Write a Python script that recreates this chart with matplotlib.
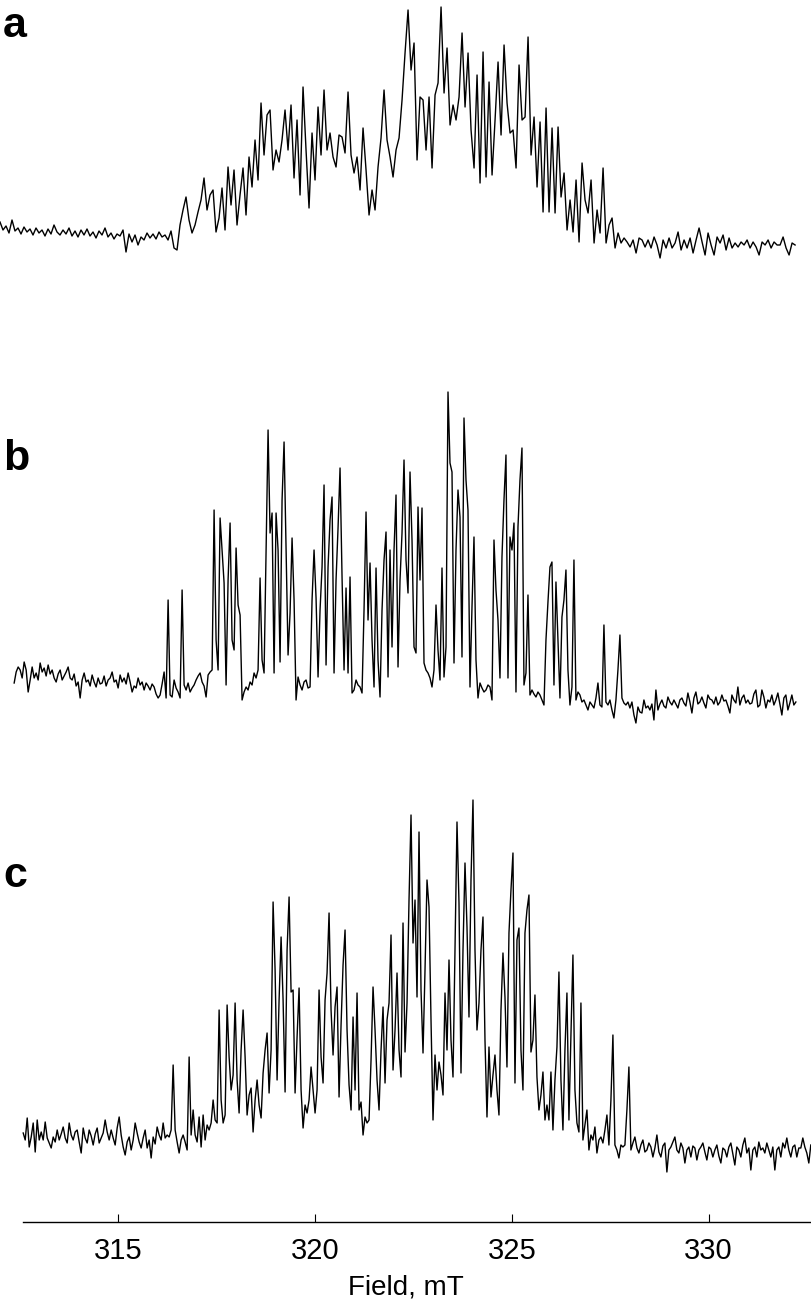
import matplotlib

matplotlib.use("Agg")
import matplotlib.pyplot as plt
import numpy as np

plt.rcParams["font.family"] = ["Liberation Sans", "DejaVu Sans"]

# Field sweep of each spectrum (mT), points are evenly spaced
field_a = (311.99, 332.20)
field_b = (312.35, 332.22)
field_c = (312.58, 332.60)

# Spectrum a (a.u., relative to its baseline)
sig_a = [
    18, 10, 14, 7, 20, 9, 12, 6, 13, 8, 11, 5, 12, 7, 10, 4, 11, 6, 15, 8,
    5, 10, 6, 12, 4, 9, 3, 10, 5, 11, 4, 8, 2, 9, 5, 12, 3, 7, 1, 6,
    4, 10, -12, 6, -2, 5, -5, 3, 0, 7, 2, 6, 1, 8, 3, 5, 0, 9, -8,
    -10, 15, 30, 43, 20, 7, 15, 28, 40, 62, 30, 45, 50, 8, 22, 52, 10, 73, 35, 70,
    15, 45, 72, 25, 83, 53, 100, 60, 137, 85, 125,
    130, 70, 90, 78, 100, 130, 90, 135, 62, 120,
    45, 153, 90, 32, 107, 60, 133, 85, 150, 90, 107,
    83, 73, 105, 103, 87, 148, 85, 67, 83, 50,
    112, 70, 25, 50, 30, 73, 102, 150, 100, 83,
    63, 90, 102, 140, 187, 230, 170, 197, 80, 143,
    140, 90, 143, 72, 145, 157, 233, 147, 192, 115,
    135, 120, 143, 207, 133, 187, 110, 72, 165, 57,
    188, 63, 158, 65, 120, 178, 105, 195, 137, 107,
    110, 72, 175, 120, 123, 203, 85, 123, 53, 118,
    28, 132, 28, 112, 27, 113, 43, 67, 10, 40,
    8, 60, -2, 77, 40, 27, 60, -3, 30, 7,
    72, -3, 15, 22, -8,
    7, -3, 2, -2, -7, 0, -13, 2, 0, -7, 0, -8, 3, -5, -18, 0, -8, 2, -8, -3,
    8, -10, 0, -8, 2, -13, 0, 12, -2, -15, 7, -5, -15, 3, -3, 5, -10, 2, -8, -3,
    -7, -2, -5, 0, -8, -2, -7, -15, -2, -5, 0, -8, -2, -5, -5, 3, -8, -15, -3, -5,
]

# Spectrum b
sig_b = [
    17, 28, 33, 30, 22, 38, 30, 8, 20, 33, 22, 27, 20, 37, 28, 32, 24, 35, 26, 30,
    22, 18, 26, 30, 20, 24, 28, 33, 22, 20, 26, 14, 18, 2, 20, 27, 18, 20, 14, 25,
    18, 13, 22, 16, 17, 24, 14, 20, 22, 28, 18, 20, 12, 25, 18, 22, 16, 27, 18, 8,
    14, 12, 22, 15, 18, 10, 17, 14, 10, 16, 13, 6, 2, 5, 16, 28, 2,
    100, 5, 3, 20, 12, 8, 2, 110, 15, 10, 17, 8, 12, 15, 20, 24, 27, 18, 14, 3,
    25, 28, 30, 190, 60, 30, 182, 150, 117, 15, 120, 177, 60, 50, 152, 95, 85, 0, 8, 13,
    10, 18, 15, 27, 22, 30, 122, 40, 27, 150, 270, 167, 187, 27, 187, 150, 38, 200, 258, 150,
    45, 87, 162, 100, 0, 23, 15, 10, 18, 20, 12, 13, 100, 150, 102, 23, 90, 133, 215, 35,
    133, 180, 203, 27, 120, 172, 232, 123, 30, 112, 27, 123, 7, 10, 20, 15, 13, 7, 90, 188,
    80, 137, 60, 13, 132, 40, 3, 90, 140, 168, 23, 150, 53, 150, 205, 33, 120, 167, 240, 140,
    107, 228, 160, 53, 47, 193, 120, 192, 37, 30, 27, 22, 13, 30, 95, 50, 20, 132, 23, 53,
    308, 237, 228, 37, 150, 210, 183, 43, 282, 220, 190, 13, 93, 163, 40, 2, 17, 12, 8, 10,
    15, 13, 0, 160, 110, 80, 22, 143, 200, 245, 22, 163, 150, 177, 8, 173, 220, 252, 15, 27,
    105, 5, 10, 6, 3, 8, 5, 0, -5, 60, 98, 133, 138, 15, 118, 60, 2, 83, 100, 130,
    30, -5, 13, 140, 0, 8, 5, -2, 0, -5, -10, -2, -5, -8, 2, 17, -5, -7, 75, -2,
    -5, 0, -10, -18, 0, 30, 65,
    2, -3, -5, -2, -8, -2, -15, -23, -7, -12, -13, 0, -8, -6, -10, -4, -20, 10, -10, -4,
    0, -6, -8, 3, -2, -5, 0, -4, -8, 0, 2, -3, -6, 7, -2, -13, 2, 8, -4, -2,
    3, -3, -8, 5, 1, 0, -4, 3, -5, -2, 5, -1, 0, -6, -13, 5, 0, -3, 13, -5,
    2, 5, -3, 0, -4, -3, 6, 10, -7, -5, 10, 3, -8, 0, -2, 5, -5, 0, 7, -4,
    -15, 2, 5, -10, -3, 5, -5, -2,
]

# Spectrum c
sig_c = [
    17, 10, 32, 3, 13, 27, -2, 30, 10, 18, 10, 28, 12, 7, 2, 13, 8, 20, 10, 16,
    23, 12, 7, 27, 15, 10, 18, 20, 8, -3, 22, 12, 7, 20, 14, 5, 16, 22, 7, 12,
    17, 30, 18, 10, 20, 12, 5, 22, 33, 15, 3, -5, 8, 13, 0, 10, 27, 17, 8, 2,
    12, 20, 2, 10, -8, 13, 6, 23, 15, 10, 27, 12, 15, 13,
    20, 85, 20, 8, -3, 10, 15, 8, 0, 93, 15, 40, 15, 8, 33, 3, 35, 10, 25, 20,
    27, 50, 30, 27, 140, 50, 27, 35, 145, 93, 60, 75, 147, 70, 37, 100, 140, 93, 35, 55,
    62, 18, 50, 70, 45, 32, 77, 100, 117, 57, 100, 248, 180, 70, 150, 213, 150, 58, 200, 253,
    158, 160, 57, 113, 162, 60, 22, 45, 37, 50, 83, 60, 37, 60, 160, 93, 67, 150, 177, 237,
    140, 95, 143, 163, 53, 125, 185, 220, 120, 65, 40, 133, 60, 157, 40, 48, 15, 33, 27, 30,
    90, 163, 120, 70, 40, 100, 143, 67, 130, 147, 215, 80, 120, 177, 100, 73, 227, 98, 147, 250,
    335, 207, 250, 153, 318, 160, 97, 180, 270, 243, 130, 30, 95, 60, 88, 75, 55, 157, 100, 190,
    110, 73, 200, 328, 247, 77, 200, 287, 223, 133, 270, 350, 200, 120, 147, 200, 233, 110, 33, 103,
    53, 75, 95, 60, 35, 140, 197, 153, 83, 217, 260, 297, 67, 210, 222, 100, 60, 217, 240, 255,
    98, 110, 155, 73, 40, 55, 78, 30, 45, 30, 78, 20, 70, 103, 178, 70, 20, 100, 157, 30,
    115, 195, 60, 27, 18, 147, 10, 25, 40, 0, 15, 10, 23, -3, 10, 13, 7, 20, 35, 5,
    50, 115, 5, 0, -8, 5, 3, 5, 40, 83, 0,
    7, 13, 2, -3, 5, 10, -2, 0, 7, 3, -7, 2, 15, -2, -7, 4, 7, -22, 0, 3,
    8, 13, 0, -3, 7, 2, -13, 0, 3, -7, 4, 2, -10, 0, 3, 7, -2, -10, 3, 1,
    -7, 0, 5, -6, -13, 2, 0, -7, 3, 7, -4, -15, 3, 0, -7, 5, 12, -3, 2, -20,
    0, 3, -7, 8, 0, 2, -3, 7, 0, -7, 3, -20, 0, 3, -7, 7, 2, 12, 0, -7,
    3, 5, -7, 2, 2, 12, 3, -3, -13, 5,
]

panel_labels = ["a", "b", "c"]
field_ticks = [315, 320, 325, 330]

# vertical offsets of the three spectra (same units as the signal)
offsets = [982, 522, 72]

fig = plt.figure(figsize=(8.12, 13.01), dpi=100)
ax = fig.add_axes([0, 79 / 1301, 1, 1222 / 1301])

for (f0, f1), sig, off in zip(
    [field_a, field_b, field_c], [sig_a, sig_b, sig_c], offsets
):
    sig = np.array(sig, dtype=float)
    field = np.linspace(f0, f1, len(sig))
    ax.plot(field, sig + off, color="black", lw=1.0)

ax.set_xlim(311.99, 332.63)
ax.set_ylim(0, 1222)

for s in ["top", "left", "right"]:
    ax.spines[s].set_visible(False)
ax.spines["bottom"].set_bounds(312.58, 332.63)
ax.spines["bottom"].set_linewidth(1.0)
ax.set_yticks([])
ax.set_xticks(field_ticks)
ax.tick_params(axis="x", direction="in", length=6, width=0.8, labelsize=21, pad=11)
ax.set_xlabel("Field, mT", fontsize=20, labelpad=7)

# panel letters
for lab, ybase in zip(panel_labels, [37, 470, 887]):
    fig.text(3 / 812, 1 - ybase / 1301, lab, fontsize=31, fontweight="bold",
             ha="left", va="baseline")

fig.savefig("out.png", dpi=100)
